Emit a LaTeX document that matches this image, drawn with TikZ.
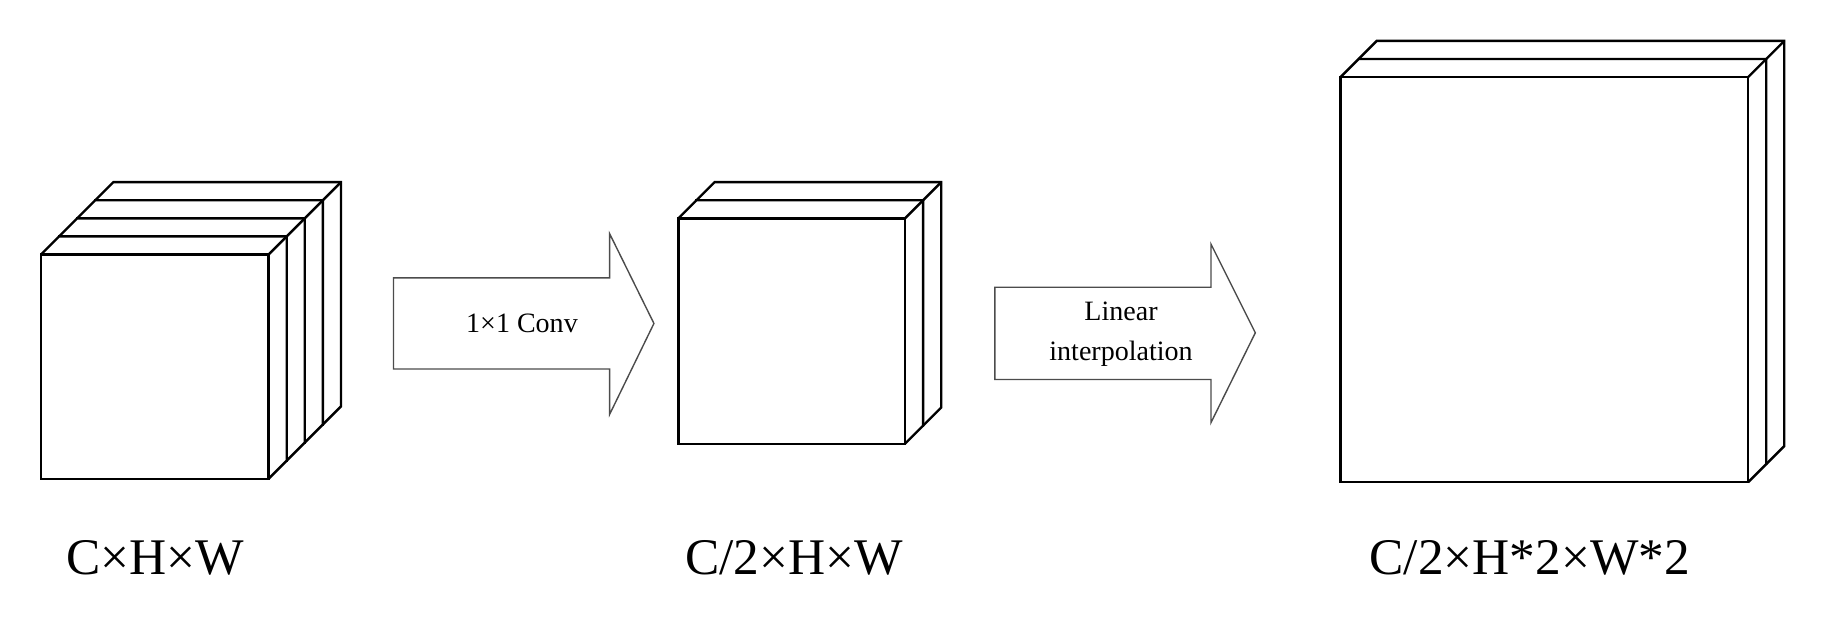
\documentclass[tikz,border=0pt]{standalone}
\usepackage{fontspec}
\setmainfont{Liberation Serif}
\begin{document}
\begin{tikzpicture}[x=0.5pt,y=-0.5pt,
  lbl/.style={font=\fontsize{22}{26}\selectfont,anchor=center},
  arr/.style={draw=black!70,fill=white,line width=0.6pt},
  atxt/.style={font=\fontsize{12}{14}\selectfont,align=center}]
\useasboundingbox (0,0) rectangle (1568,529);
% generic layer: front square (x,y,w,h) with depth d
\newcommand{\lay}[5]{% x y w h d
  \fill[white] (#1,#2) -- ++(#5,-#5) -- ++(#3,0) -- ++(0,#4) -- ++(-#5,#5) -- ++(-#3,0) -- cycle;
  \draw[line width=1pt] (#1,#2) -- ++(#5,-#5) -- ++(#3,0) -- ++(0,#4) -- ++(-#5,#5);
  \draw[line width=1pt] (#1+#3,#2) -- ++(#5,-#5);
  \draw[line width=1pt] (#1,#2) rectangle ++(#3,#4);}
% cube 1
\foreach \i in {3,2,1}{\lay{35+15.5*\i}{218-15.5*\i}{195}{192}{15.5}}
\lay{35}{218}{195}{192}{15.5}
% cube 2
\lay{596.5}{171.5}{194}{193}{15.5}
\lay{581}{187}{194}{193}{15.5}
% cube 3
\lay{1163.5}{50.5}{349}{347}{15.5}
\lay{1148}{66}{349}{347}{15.5}
% arrows
\draw[arr] (337,238) -- (522,238) -- (522,200) -- (560,277) -- (522,355) -- (522,316) -- (337,316) -- cycle;
\node[atxt] (t1) at (447,277) {1×1 Conv};
\draw[arr] (852,246) -- (1037,246) -- (1037,209) -- (1075,285) -- (1037,362) -- (1037,325) -- (852,325) -- cycle;
\node[atxt] (t2) at (960,286) {Linear\\[3pt]interpolation};
% labels
\node[lbl] (l1) at (133,478) {C×H×W};
\node[lbl] (l2) at (680,478) {C/2×H×W};
\node[lbl] (l3) at (1310,478) {C/2×H*2×W*2};
\end{tikzpicture}
\end{document}
